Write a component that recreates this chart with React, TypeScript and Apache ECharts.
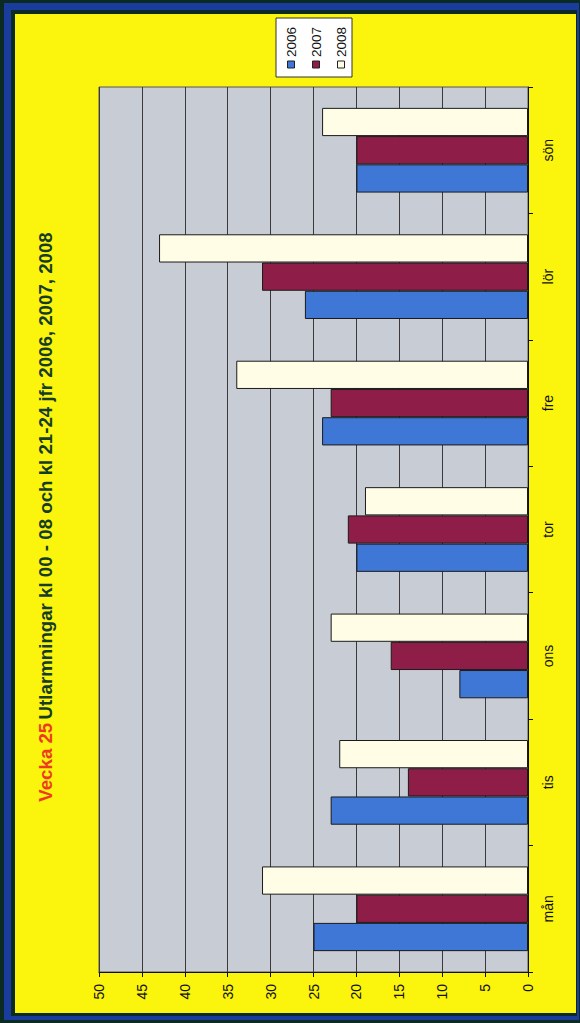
import React, { useEffect, useRef } from "react";
import * as echarts from "echarts";

const categories = ["mån", "tis", "ons", "tor", "fre", "lör", "sön"];
const seriesNames = ["2006", "2007", "2008"];
const values2006 = [25, 23, 8, 20, 24, 26, 20];
const values2007 = [20, 14, 16, 21, 23, 31, 20];
const values2008 = [31, 22, 23, 19, 34, 43, 24];
const seriesColors = ["#3f77d6", "#8e1e48", "#fffde6"];
const valueMin = 0;
const valueMax = 50;
const valueInterval = 5;
const titleRed = "Vecka 25";
const titleRest = "Utlarmningar kl 00 - 08 och kl 21-24 jfr 2006, 2007, 2008";

const FONT = "Liberation Sans, Arial, sans-serif";

export default function App() {
  const ref = useRef<HTMLDivElement>(null);
  useEffect(() => {
    if (!ref.current) return;
    const chart = echarts.init(ref.current, null, { renderer: "svg" });
    const allValues = [values2006, values2007, values2008];
    const legendX = [291, 316, 341];
    const legendGraphics: any[] = [
      {
        type: "rect",
        shape: { x: 276, y: 18, width: 76, height: 59 },
        style: { fill: "#ffffff", stroke: "#333", lineWidth: 1 },
        z: 10,
      },
    ];
    seriesNames.forEach((n, i) => {
      legendGraphics.push({
        type: "rect",
        shape: { x: legendX[i] - 3.5, y: 61, width: 7, height: 7 },
        style: { fill: seriesColors[i], stroke: "#222", lineWidth: 1 },
        z: 11,
      });
      legendGraphics.push({
        type: "text",
        x: legendX[i],
        y: 57,
        rotation: Math.PI / 2,
        style: {
          text: n,
          x: 0,
          y: 0,
          align: "left",
          verticalAlign: "middle",
          fontSize: 13.5,
          fontFamily: FONT,
          fill: "#111",
        },
        z: 11,
      });
    });

    // series listed from 2008 down to 2006 so that 2006 sits lowest in each group
    const order = [2, 1, 0];

    chart.setOption({
      animation: false,
      backgroundColor: "#0a2a22",
      graphic: [
        {
          type: "rect",
          shape: { x: 4, y: 3, width: 575, height: 1017 },
          style: { fill: "#1a3c9c" },
          z: -10,
        },
        {
          type: "rect",
          shape: { x: 11, y: 10, width: 566, height: 1006 },
          style: { fill: "#0a2a22" },
          z: -9,
        },
        {
          type: "rect",
          shape: { x: 15, y: 14, width: 561, height: 999 },
          style: { fill: "#fbf40c" },
          z: -8,
        },
        {
          type: "text",
          x: 45,
          y: 517,
          rotation: Math.PI / 2,
          style: {
            text: "{r|" + titleRed + "} {g|" + titleRest + "}",
            x: 0,
            y: 0,
            align: "center",
            verticalAlign: "middle",
            rich: {
              r: { fill: "#ee3a22", fontSize: 18.7, fontWeight: "bold", fontFamily: FONT },
              g: { fill: "#153c28", fontSize: 18.7, fontWeight: "bold", fontFamily: FONT },
            },
          },
          z: 5,
        },
        ...legendGraphics,
      ],
      grid: {
        left: 99,
        right: 52,
        top: 87,
        bottom: 51,
        show: true,
        backgroundColor: "#c8ccd5",
        borderColor: "#555",
        borderWidth: 1,
      },
      xAxis: {
        type: "value",
        inverse: true,
        min: valueMin,
        max: valueMax,
        interval: valueInterval,
        position: "bottom",
        axisLine: { show: true, lineStyle: { color: "#111", width: 1 } },
        axisTick: { show: true, length: 5, lineStyle: { color: "#111" } },
        splitLine: { show: true, lineStyle: { color: "#3a3a3a", width: 1 } },
        axisLabel: {
          rotate: 90,
          margin: 12,
          fontSize: 14,
          color: "#111",
          fontFamily: FONT,
        },
      },
      yAxis: {
        type: "category",
        data: categories,
        position: "right",
        axisLine: { show: true, lineStyle: { color: "#111", width: 1 } },
        axisTick: { show: true, length: 5, lineStyle: { color: "#111" } },
        splitLine: { show: false },
        axisLabel: {
          rotate: 90,
          margin: 20,
          fontSize: 14,
          color: "#111",
          fontFamily: FONT,
          align: "center",
          verticalAlign: "middle",
        },
      },
      series: order.map((i) => ({
        name: seriesNames[i],
        type: "bar",
        data: allValues[i],
        barGap: "0%",
        barCategoryGap: "33%",
        itemStyle: {
          color: seriesColors[i],
          borderColor: "#1a1a1a",
          borderWidth: 1,
        },
      })),
    });
    return () => chart.dispose();
  }, []);
  return (
    <div
      ref={ref}
      style={{ position: "fixed", left: 0, top: 0, width: 580, height: 1023 }}
    />
  );
}
